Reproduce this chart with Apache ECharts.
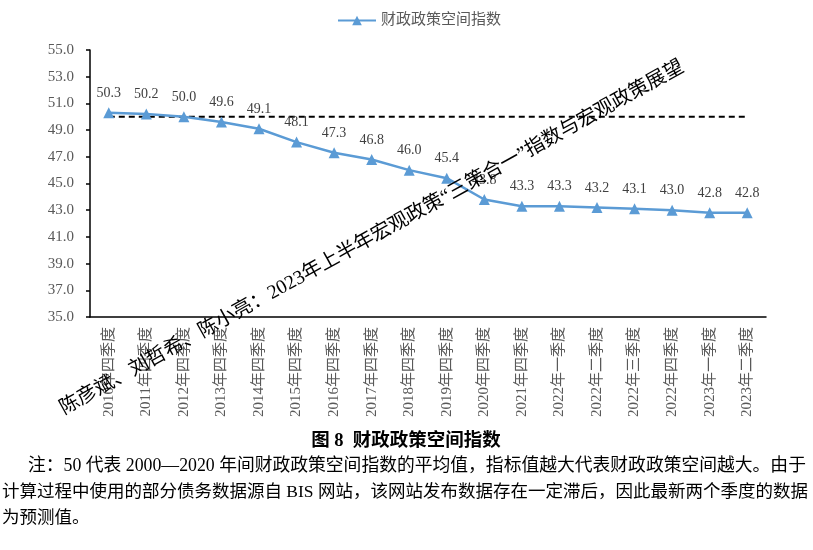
<!DOCTYPE html>
<html><head><meta charset="utf-8">
<script src="https://cdn.jsdelivr.net/npm/echarts@6/dist/echarts.min.js"></script>
<style>html,body{margin:0;padding:0;background:#fff}#c{width:813px;height:550px}</style>
</head><body><div id="c"></div>
<script>
const categories = ['2010年四季度','2011年四季度','2012年四季度','2013年四季度','2014年四季度','2015年四季度','2016年四季度','2017年四季度','2018年四季度','2019年四季度','2020年四季度','2021年四季度','2022年一季度','2022年二季度','2022年三季度','2022年四季度','2023年一季度','2023年二季度'];
const indexValues = [50.3,50.2,50.0,49.6,49.1,48.1,47.3,46.8,46.0,45.4,43.8,43.3,43.3,43.2,43.1,43.0,42.8,42.8];
const averageValues = [50,50,50,50,50,50,50,50,50,50,50,50,50,50,50,50,50,50];
const seriesName = '财政政策空间指数';
const yMin = 35, yMax = 55, yStep = 2;

const serif = '"Times New Roman","Liberation Serif","Noto Sans CJK SC",serif';
const chart = echarts.init(document.getElementById('c'));
chart.setOption({
  animation:false,
  legend:{data:[seriesName],top:8,left:332,itemWidth:38,itemHeight:12,
    textStyle:{color:'#595959',fontSize:15,fontFamily:serif}},
  grid:{left:90,right:47,top:50,bottom:233},
  xAxis:{type:'category',data:categories,boundaryGap:true,
    axisLine:{lineStyle:{color:'#000',width:1.5}},
    axisTick:{inside:true,length:5,lineStyle:{color:'#000',width:1.5}},
    axisLabel:{rotate:90,color:'#595959',fontSize:15,fontFamily:serif,margin:10,interval:0}},
  yAxis:{type:'value',min:yMin,max:yMax,interval:yStep,
    axisLine:{show:true,lineStyle:{color:'#000',width:1.5}},
    axisTick:{show:true,length:4,lineStyle:{color:'#000',width:1.5}},
    splitLine:{show:false},
    axisLabel:{color:'#595959',fontSize:15,fontFamily:serif,margin:16,formatter:v=>v.toFixed(1)}},
  series:[
    {name:'平均值',type:'line',data:averageValues,symbol:'none',silent:true,
     lineStyle:{color:'#000',width:1.8,type:[6,4]},z:1},
    {name:seriesName,type:'line',data:indexValues,symbol:'triangle',symbolSize:11,
     lineStyle:{color:'#5B9BD5',width:2.5},itemStyle:{color:'#5B9BD5'},
     label:{show:true,position:'top',distance:7,color:'#404040',fontSize:14,fontFamily:serif,
       formatter:p=>p.value.toFixed(1)},z:3}
  ],
  graphic:[
    {type:'text',x:372,y:238,rotation:29*Math.PI/180,z:10,
     style:{text:'陈彦斌、刘哲希、陈小亮：2023年上半年宏观政策“三策合一”指数与宏观政策展望',
       fill:'#000',font:'19.8px '+serif,textAlign:'center',textVerticalAlign:'middle'}},
    {type:'text',x:406,y:441,style:{text:'图 8  财政政策空间指数',fill:'#000',
       font:'bold 18.5px '+serif,textAlign:'center',textVerticalAlign:'middle'}},
    {type:'text',x:28,y:466,style:{text:'注：50 代表 2000—2020 年间财政政策空间指数的平均值，指标值越大代表财政政策空间越大。由于',
       fill:'#000',font:'17.8px '+serif,textVerticalAlign:'middle'}},
    {type:'text',x:2,y:492,style:{text:'计算过程中使用的部分债务数据源自 BIS 网站，该网站发布数据存在一定滞后，因此最新两个季度的数据',
       fill:'#000',font:'17.5px '+serif,textVerticalAlign:'middle'}},
    {type:'text',x:2,y:518,style:{text:'为预测值。',fill:'#000',font:'17.5px '+serif,textVerticalAlign:'middle'}}
  ]
});
</script></body></html>
